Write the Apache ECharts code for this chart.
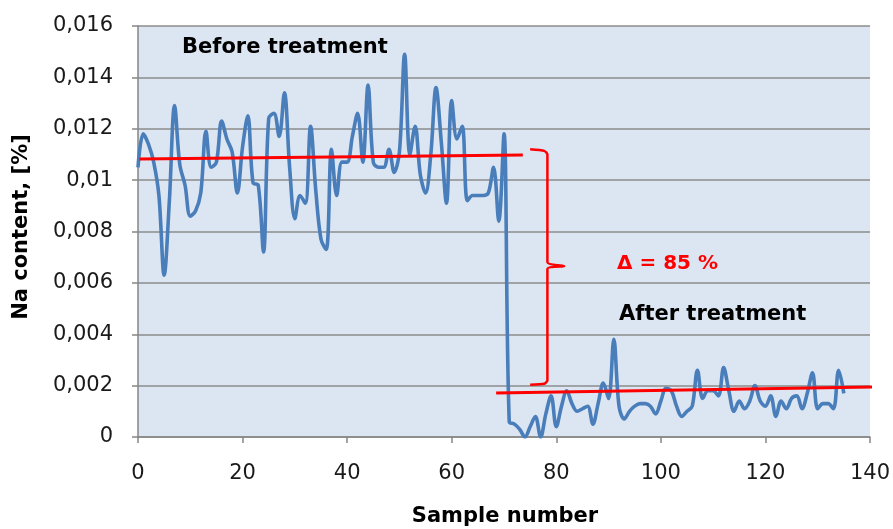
<!DOCTYPE html>
<html>
<head>
<meta charset="utf-8">
<script src="https://cdn.jsdelivr.net/npm/echarts@6/dist/echarts.min.js"></script>
<style>
html,body{margin:0;padding:0;background:#fff;}
#chart{width:893px;height:529px;}
</style>
</head>
<body>
<div id="chart"></div>
<script>
// ---- data ----
const xTicks = [0, 20, 40, 60, 80, 100, 120, 140];
const yTickLabels = ['0', '0,002', '0,004', '0,006', '0,008', '0,01', '0,012', '0,014', '0,016'];
const naContent = [
  0.0105, 0.0118, 0.0114, 0.0107, 0.0094, 0.0063, 0.0092, 0.0129, 0.0106, 0.0098,
  0.0086, 0.0088, 0.0095, 0.0119, 0.0105, 0.0107, 0.0123, 0.0116, 0.0111, 0.0095,
  0.0113, 0.0125, 0.0099, 0.0098, 0.0072, 0.0124, 0.0126, 0.0117, 0.0134, 0.0105,
  0.0085, 0.0094, 0.0091, 0.0121, 0.0096, 0.0077, 0.0073, 0.0112, 0.0094, 0.0107,
  0.0107, 0.0117, 0.0126, 0.0107, 0.0137, 0.0107, 0.0105, 0.0105, 0.0112, 0.0103,
  0.0111, 0.0149, 0.0110, 0.0121, 0.0102, 0.0095, 0.0110, 0.0136, 0.0115, 0.0091,
  0.0131, 0.0116, 0.0121, 0.0092, 0.0094, 0.0094, 0.0094, 0.0095, 0.0105, 0.0084,
  0.0118, 0.0006, 0.0005, 0.0003, 0.0000, 0.0004, 0.0008, 0.0000, 0.0009, 0.0016,
  0.0004, 0.0012, 0.0018, 0.0013, 0.0010, 0.0011, 0.0012, 0.0005, 0.0013, 0.0021,
  0.0015, 0.0038, 0.0012, 0.0007, 0.0010, 0.0012, 0.0013, 0.0013, 0.0012, 0.0009,
  0.0014, 0.0019, 0.0018, 0.0012, 0.0008, 0.0010, 0.0012, 0.0026, 0.0015, 0.0018,
  0.0018, 0.0016, 0.0027, 0.0018, 0.0010, 0.0014, 0.0011, 0.0014, 0.0020, 0.0014,
  0.0012, 0.0016, 0.0008, 0.0014, 0.0011, 0.0015, 0.0016, 0.0011, 0.0017, 0.0025,
  0.0011, 0.0013, 0.0013, 0.0011, 0.0026, 0.0017
];
// annotation lines (mean levels and bracket), in data units
const beforeLevel = [[0.3, 0.01082], [73.6, 0.01098]];
const afterLevel = [[68.5, 0.00171], [141.9, 0.00195]];
const bracket = [[75.0, 0.01120], [77.7, 0.01114], [78.3, 0.01100], [78.3, 0.00680],
                 [81.5, 0.00665], [78.3, 0.00655], [78.3, 0.00220], [77.7, 0.00207], [75.0, 0.00203]];
const labels = { before: 'Before treatment', after: 'After treatment', delta: 'Δ = 85 %' };

const FONT = '"DejaVu Sans", sans-serif';
const chart = echarts.init(document.getElementById('chart'));
const baseGraphics = [
  { type: 'text', x: 22, y: 227, rotation: Math.PI / 2, z: 10,
    style: { text: 'Na content, [%]', font: 'bold 21px ' + FONT, fill: '#000',
             textAlign: 'center', textVerticalAlign: 'middle' } },
  { type: 'text', x: 505, y: 517, z: 10,
    style: { text: 'Sample number', font: 'bold 21px ' + FONT, fill: '#000',
             textAlign: 'center', textVerticalAlign: 'middle' } },
  { type: 'text', left: 182, top: 37, z: 10,
    style: { text: labels.before, font: 'bold 21px ' + FONT, fill: '#000' } },
  { type: 'text', left: 619, top: 304, z: 10,
    style: { text: labels.after, font: 'bold 21px ' + FONT, fill: '#000' } },
  { type: 'text', left: 617, top: 254, z: 10,
    style: { text: labels.delta, font: 'bold 20px ' + FONT, fill: '#ff0000' } }
];
chart.setOption({
  animation: false,
  backgroundColor: '#ffffff',
  grid: {
    left: 138, right: 23, top: 26, bottom: 92,
    show: true, backgroundColor: '#dce6f2', borderWidth: 0
  },
  xAxis: {
    type: 'value', min: xTicks[0], max: xTicks[xTicks.length - 1], interval: 20,
    axisLine: { show: true, onZero: false, lineStyle: { color: '#868686', width: 1.5 } },
    axisTick: { show: true, length: 6, lineStyle: { color: '#868686', width: 1.5 } },
    axisLabel: { show: false },
    splitLine: { show: false }
  },
  yAxis: {
    type: 'value', min: 0, max: 0.016, interval: 0.002,
    axisLine: { show: true, lineStyle: { color: '#868686', width: 1.5 } },
    axisTick: { show: true, length: 6, lineStyle: { color: '#868686', width: 1.5 } },
    axisLabel: {
      fontFamily: FONT, fontSize: 21, color: '#1a1a1a', margin: 25,
      formatter: function (v) { return yTickLabels[Math.round(v / 0.002)]; }
    },
    splitLine: { show: true, lineStyle: { color: '#8c8c8c', width: 1.5 } }
  },
  series: [
    {
      type: 'line', data: naContent.map((v, i) => [i, v]),
      smooth: 0.35, showSymbol: false, symbol: 'none',
      lineStyle: { color: '#4a7ebb', width: 3.6 }, z: 2
    },
    {
      type: 'line', data: beforeLevel, showSymbol: false, symbol: 'none', clip: false,
      lineStyle: { color: '#ff0000', width: 3 }, z: 3
    },
    {
      type: 'line', data: afterLevel, showSymbol: false, symbol: 'none', clip: false,
      lineStyle: { color: '#ff0000', width: 3 }, z: 3
    },
    {
      type: 'line', data: bracket, showSymbol: false, symbol: 'none', clip: false, smooth: 0.2,
      lineStyle: { color: '#ff0000', width: 2.5 }, z: 3
    }
  ],
  graphic: baseGraphics
});
// x tick labels placed through the x axis scale
const y0 = chart.convertToPixel({ yAxisIndex: 0 }, 0);
const tickGraphics = xTicks.map(function (t) {
  return { type: 'text', x: chart.convertToPixel({ xAxisIndex: 0 }, t), y: y0 + 37, z: 10,
           style: { text: String(t), font: '21px ' + FONT, fill: '#1a1a1a',
                    textAlign: 'center', textVerticalAlign: 'middle' } };
});
chart.setOption({ graphic: baseGraphics.concat(tickGraphics) }, { replaceMerge: ['graphic'] });
</script>
</body>
</html>
